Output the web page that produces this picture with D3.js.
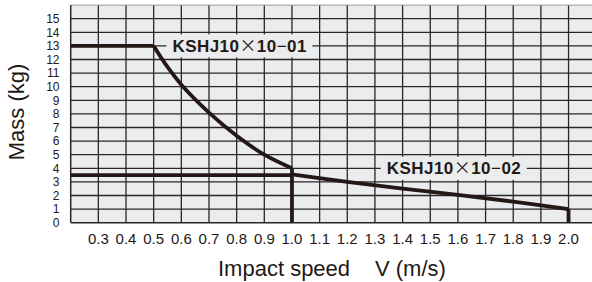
<!DOCTYPE html>
<html><head><meta charset="utf-8">
<script src="https://cdn.jsdelivr.net/npm/d3@7/dist/d3.min.js"></script>
<style>html,body{margin:0;padding:0;background:#fff;}svg{display:block;}</style>
</head><body><div id="chart"></div>
<script>
// ---- data ----
const xTicks = [0.3,0.4,0.5,0.6,0.7,0.8,0.9,1.0,1.1,1.2,1.3,1.4,1.5,1.6,1.7,1.8,1.9,2.0];
const xTickLabels = ["0.3","0.4","0.5","0.6","0.7","0.8","0.9","1.0","1.1","1.2","1.3","1.4","1.5","1.6","1.7","1.8","1.9","2.0"];
const yTicks = [0,1,2,3,4,5,6,7,8,9,10,11,12,13,14,15];
// KSHJ10x10-01 : flat part then curve
const s01FlatV = [0.2, 0.5];
const s01FlatM = [13, 13];
const s01CurveV = [0.5, 0.55, 0.6, 0.7, 0.8, 0.9, 1.0];
const s01CurveM = [13, 11.45, 10.15, 8.1, 6.4, 5.0, 4.0];
const s01DropV = [1.0, 1.0];
const s01DropM = [4.0, 0];
// KSHJ10x10-02
const s02FlatV = [0.2, 1.0];
const s02FlatM = [3.5, 3.5];
const s02CurveV = [1.0, 1.2, 1.4, 1.6, 1.8, 2.0];
const s02CurveM = [3.55, 3.0, 2.5, 2.05, 1.55, 1.0];
const s02DropV = [2.0, 2.0];
const s02DropM = [1.0, 0];
const labelNames = ["KSHJ10", "KSHJ10"];
const labelSuffix = ["01", "02"];
const labelV = [0.81, 1.585];
const labelM = [13, 4];

// ---- layout ----
const W = 592, H = 282;
const svg = d3.select("#chart").append("svg").attr("width", W).attr("height", H);
svg.append("rect").attr("width", W).attr("height", H).attr("fill", "#fff");

const x = d3.scaleLinear().domain([0.2, 2.1]).range([70.7, 596.2]);
const y = d3.scaleLinear().domain([0, 16]).range([222.7, 5.1]);

const ink = "#231815";
const gridC = "#2b2526";

// plot background
svg.append("rect").attr("x", x(0.2)).attr("y", y(16)).attr("width", W - x(0.2)).attr("height", y(0) - y(16)).attr("fill", "#ebeced");

// grid
const gridV = d3.range(0.3, 2.15, 0.1).map(d => +d.toFixed(1));
svg.append("g").selectAll("line").data(gridV).join("line")
  .attr("x1", d => x(d)).attr("x2", d => x(d)).attr("y1", y(16)).attr("y2", y(0))
  .attr("stroke", gridC).attr("stroke-width", 1.3);
svg.append("g").selectAll("line").data(d3.range(1, 16)).join("line")
  .attr("x1", x(0.2)).attr("x2", W).attr("y1", d => y(d)).attr("y2", d => y(d))
  .attr("stroke", gridC).attr("stroke-width", 1.3);
// top border (light)
svg.append("line").attr("x1", x(0.2)).attr("x2", W).attr("y1", y(16)).attr("y2", y(16)).attr("stroke", "#9a9a9a").attr("stroke-width", 1);
// left & bottom border
svg.append("line").attr("x1", x(0.2)).attr("x2", x(0.2)).attr("y1", y(16)).attr("y2", y(0)).attr("stroke", gridC).attr("stroke-width", 1.5);
svg.append("line").attr("x1", x(0.2)).attr("x2", W).attr("y1", y(0)).attr("y2", y(0)).attr("stroke", gridC).attr("stroke-width", 1.5);

// labels with background boxes (drawn before thick lines)
const lab = svg.append("g");
labelNames.forEach((n, i) => {
  const cx = x(labelV[i]), cy = y(labelM[i]);
  lab.append("rect").attr("x", cx - 73).attr("y", cy - 11.5).attr("width", 146).attr("height", 23).attr("fill", "#ebeced");
  const t = lab.append("text").attr("x", cx).attr("y", cy).attr("dy", "0.36em")
    .attr("text-anchor", "middle").attr("font-family", "Liberation Sans, Arial, sans-serif")
    .attr("font-size", 17).attr("font-weight", "bold").attr("fill", ink)
    .attr("textLength", 134).attr("lengthAdjust", "spacing");
  t.append("tspan").text(n);
  t.append("tspan").attr("font-weight", "normal").attr("font-family", "Noto Sans CJK JP").attr("font-size", 17).text("\u00D7");
  t.append("tspan").text("10");
  t.append("tspan").attr("font-weight", "normal").text("\u2212");
  t.append("tspan").text(labelSuffix[i]);
});

// thick series lines
const lin = d3.line().x(d => x(d[0])).y(d => y(d[1]));
const smooth = d3.line().x(d => x(d[0])).y(d => y(d[1])).curve(d3.curveCatmullRom.alpha(0.5));
const zip = (a, b) => a.map((v, i) => [v, b[i]]);
const g = svg.append("g").attr("fill", "none").attr("stroke", ink).attr("stroke-width", 3.8);
g.append("path").attr("d", lin(zip(s01FlatV, s01FlatM)));
g.append("path").attr("d", smooth(zip(s01CurveV, s01CurveM)));
g.append("path").attr("d", lin(zip(s01DropV, s01DropM)));
g.append("path").attr("d", lin(zip(s02FlatV, s02FlatM)));
g.append("path").attr("d", smooth(zip(s02CurveV, s02CurveM)));
g.append("path").attr("d", lin(zip(s02DropV, s02DropM)));

// axes tick labels
const font = "Liberation Sans, Arial, Helvetica, sans-serif";
svg.append("g").selectAll("text").data(xTicks).join("text")
  .attr("x", d => x(d)).attr("y", 244.3).attr("text-anchor", "middle")
  .attr("font-family", font).attr("font-size", 15).attr("fill", ink)
  .text((d, i) => xTickLabels[i]);
svg.append("g").selectAll("text").data(yTicks).join("text")
  .attr("x", 59.5).attr("y", d => y(d)).attr("dy", "0.36em").attr("text-anchor", "end")
  .attr("font-family", font).attr("font-size", 12).attr("fill", ink)
  .text(d => d);

// axis titles
svg.append("text").attr("x", 218).attr("y", 276).attr("font-family", font).attr("font-size", 22).attr("fill", ink).text("Impact speed");
svg.append("text").attr("x", 375).attr("y", 276).attr("font-family", font).attr("font-size", 22).attr("fill", ink).text("V (m/s)");
svg.append("text").attr("transform", "translate(24,112) rotate(-90)").attr("text-anchor", "middle")
  .attr("font-family", font).attr("font-size", 22).attr("fill", ink).text("Mass (kg)");
</script></body></html>
